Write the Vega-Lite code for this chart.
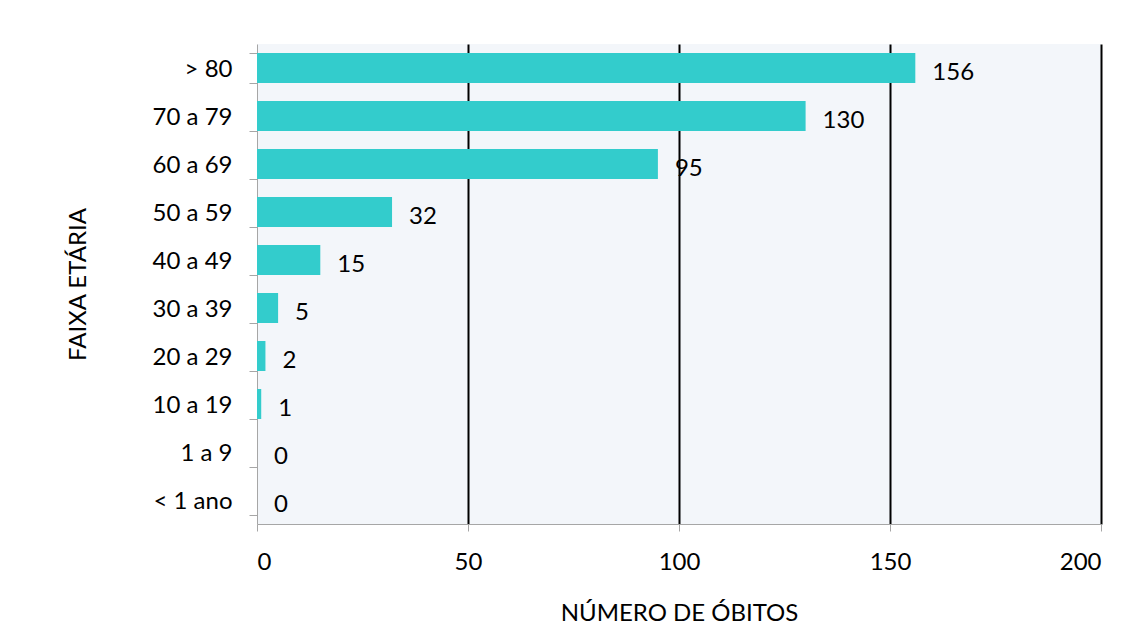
{
  "$schema": "https://vega.github.io/schema/vega-lite/v6.json",
  "width": 844,
  "height": 480,
  "autosize": "none",
  "padding": {"left": 257, "top": 44, "right": 43, "bottom": 104},
  "background": "white",
  "config": {
    "font": "Lato",
    "view": {"fill": "#f3f6fa", "stroke": null}
  },
  "data": {
    "values": [
      {"faixa": "> 80", "obitos": 156},
      {"faixa": "70 a 79", "obitos": 130},
      {"faixa": "60 a 69", "obitos": 95},
      {"faixa": "50 a 59", "obitos": 32},
      {"faixa": "40 a 49", "obitos": 15},
      {"faixa": "30 a 39", "obitos": 5},
      {"faixa": "20 a 29", "obitos": 2},
      {"faixa": "10 a 19", "obitos": 1},
      {"faixa": "1 a 9", "obitos": 0},
      {"faixa": "< 1 ano", "obitos": 0}
    ]
  },
  "encoding": {
    "y": {
      "field": "faixa",
      "type": "nominal",
      "sort": null,
      "scale": {"paddingInner": 0.375, "paddingOuter": 0.1875},
      "axis": {
        "title": "FAIXA ETÁRIA",
        "titleFont": "Lato",
        "titleFontSize": 24,
        "titleFontWeight": "normal",
        "titleColor": "black",
        "titlePadding": 62,
        "labelFont": "Lato",
        "labelFontSize": 24,
        "labelColor": "black",
        "labelPadding": 17,
        "labelOffset": 1,
        "tickBand": "extent",
        "tickSize": 8,
        "tickColor": "#a6a6a6",
        "domainColor": "#a6a6a6",
        "grid": false
      }
    },
    "x": {
      "field": "obitos",
      "type": "quantitative",
      "scale": {"domain": [0, 200], "nice": false},
      "axis": {
        "title": "NÚMERO DE ÓBITOS",
        "values": [0, 50, 100, 150, 200],
        "titleFont": "Lato",
        "titleFontSize": 24,
        "titleFontWeight": "normal",
        "titleColor": "black",
        "titlePadding": 27,
        "labelFont": "Lato",
        "labelFontSize": 24,
        "labelColor": "black",
        "labelPadding": 19,
        "tickSize": 7,
        "tickColor": "#a6a6a6",
        "domainColor": "#a6a6a6",
        "grid": true,
        "gridColor": {"condition": {"test": "datum.value === 0", "value": "transparent"}, "value": "black"},
        "gridOpacity": 1,
        "gridWidth": 2
      }
    }
  },
  "layer": [
    {"mark": {"type": "bar", "color": "#33cccc"}},
    {
      "mark": {"type": "text", "align": "left", "baseline": "middle", "dx": 17, "dy": 5, "fontSize": 24, "font": "Lato", "color": "black"},
      "encoding": {"text": {"field": "obitos", "type": "quantitative"}}
    }
  ]
}
